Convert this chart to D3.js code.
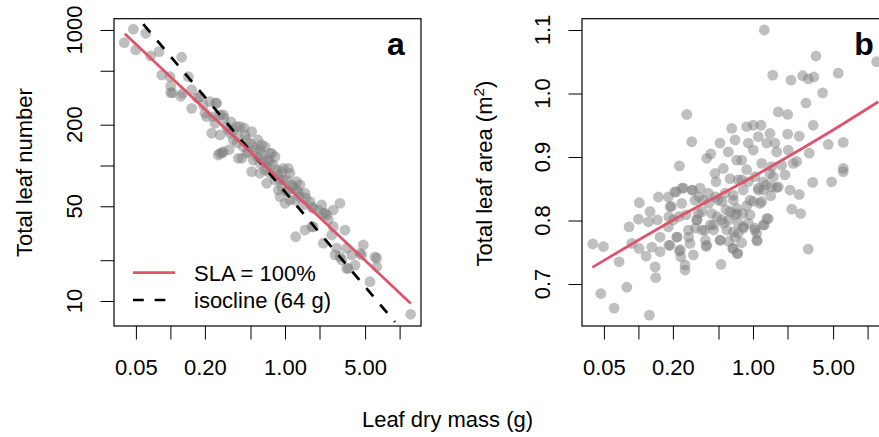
<!DOCTYPE html>
<html>
<head>
<meta charset="utf-8">
<script src="https://cdn.jsdelivr.net/npm/d3@7"></script>
<style>
  body { margin: 0; background: #fff; }
  svg { display: block; font-family: "Liberation Sans", Arial, Helvetica, sans-serif; }
</style>
</head>
<body>
<div id="chart"></div>
<script>
// panel a: leaf dry mass (g) vs total leaf number
const massA = [0.0396,0.0475,0.0609,0.0498,0.0673,0.0795,0.1255,0.0840,0.0992,0.1006,
  0.1006,0.1280,0.1433,0.1534,0.1534,0.1813,0.1937,0.2215,0.2535,0.2004,
  0.2367,0.2709,0.2293,0.2618,0.2894,0.3099,0.3539,0.3312,0.4049,0.3912,
  0.3539,0.4633,0.5122,0.5289,0.4784,0.4190,0.5122,0.5663,0.6050,0.6691,
  0.6466,0.6923,0.6050,0.7397,0.8180,0.7397,0.6923,0.8464,0.9665,0.9045,
  1.035,1.106,0.874,1.035,1.181,1.265,1.352,1.106,1.223,1.352,
  1.495,1.444,1.653,1.766,2.091,2.159,2.639,3.019,2.387,2.639,
  3.339,1.710,1.495,1.240,2.159,2.556,2.826,3.019,3.455,4.082,
  3.568,4.823,4.671,6.101,6.313,5.516,12.50,0.2073,0.2450,0.2894,
  0.2709,0.3200,0.3790,0.2709,0.3912,0.4327,0.4633,0.4951,0.6261,0.7654,
  0.5289,0.6050,0.6691,0.7397,0.936,1.069,0.818,0.9665,0.936,1.069,
  1.265,0.9045,1.000,1.710,2.234,2.311,1.766,3.820,2.731,3.125,
  3.455,4.512,6.313,0.1039,0.1230,0.1717,0.2484,0.2837,0.3247,0.2935,
  0.4477,0.5473,0.5812,0.6300,0.7107,0.7856,0.8687,1.151,1.299,1.525,
  1.941,0.3379,0.3813,0.4388]
const leafNumber = [806,1012,945,712,643,692,629,466,452,386,
  345,341,452,361,264,322,280,296,288,243,
  229,236,173,119.5,126.4,193.4,182.8,173,193.4,163.2,
  154.2,154.2,177.6,137.6,126.4,113.0,90.0,116.1,130.1,137.6,
  109.8,98.0,87.6,123.0,116.1,87.6,73.9,92.6,95.3,78.2,
  78.2,87.6,65.9,64.1,69.8,75.9,71.8,55.6,55.6,58.9,
  62.3,51.1,54.1,48.3,51.1,44.4,46.9,52.6,39.6,35.3,
  33.4,35.3,33.4,29.8,26.7,30.7,24.5,21.2,24.5,18.4,
  17.4,25.9,21.9,21.2,17.9,13.9,7.98,229,204.8,236,
  168,182.8,193.4,123.0,113.0,137.6,123.0,145.8,141.7,123.0,
  109.8,103.8,92.6,106.7,90.0,95.3,78.2,78.2,69.8,65.9,
  65.9,58.9,52.6,49.6,44.4,43.1,35.3,21.9,21.9,20.1,
  17.4,22.5,20.7,343,324,315,289,123.7,130.8,224,
  168,130.1,154.2,119.5,109.8,100.9,85.1,71.8,63.7,57.6,
  46.9,209.4,146.6,189.2]

// panel a lines (end points)
const slaMass = [0.04, 12.5]
const slaNumber = [939, 9.6]
const isoMass = [0.058, 9.1]
const isoNumber = [1105, 7.0]

// panel b: leaf dry mass (g) vs total leaf area (m2)
const massB = [0.0400,0.0495,0.0470,0.0614,0.0792,0.0679,0.0829,0.0876,0.100,0.1020,
  0.1014,0.1167,0.1247,0.1265,0.1223,0.1309,0.1398,0.1418,0.1464,0.1494,
  0.1546,0.1546,0.1826,0.1889,0.1826,0.2019,0.1889,0.2132,0.2278,0.2390,
  0.2162,0.2278,0.2343,0.2554,0.2554,0.2642,0.2468,0.2606,0.2729,0.2921,
  0.2956,0.3016,0.2823,0.3121,0.3229,0.3335,0.3450,0.3686,0.3815,0.3948,
  0.3948,0.4277,0.4077,0.4364,0.4507,0.4663,0.4757,0.4982,0.5155,0.5260,
  0.5155,0.5334,0.5509,0.5700,0.5816,0.5898,0.6090,0.6521,0.6302,0.6734,
  0.6653,0.6967,0.7208,0.7354,0.7208,0.7444,0.7971,0.7971,0.8132,0.8231,
  0.8812,0.8812,0.9100,0.9415,1.006,1.006,1.041,1.041,1.077,1.112,
  1.112,1.151,1.174,1.191,1.230,1.254,1.254,1.317,1.359,1.407,
  1.456,1.456,1.485,1.555,1.609,1.662,1.662,1.779,1.901,2.007,
  2.007,2.031,2.102,2.145,2.175,2.246,2.404,2.533,2.533,2.605,
  2.713,2.898,3.034,3.034,3.097,3.315,3.355,3.402,3.543,4.052,
  4.533,4.855,5.541,6.129,6.129,6.129,11.98,0.1841,0.2250,0.3362,
  0.2750,0.3140,0.3591,0.3838,0.4243,0.4543,0.3591,0.4110,0.4691,0.5366,
  0.6139,0.4854,0.5553,0.6139,1.427,1.609,1.298,1.503,1.112,1.191,
  1.006,0.8812,0.7208,0.9415,0.910,0.7444,0.8231,0.6734,0.6967,1.077,
  0.7971,0.6302,0.6967,0.6734,0.8231,0.910,0.7444,1.230,1.407,
  0.2076,0.2404,0.1940,0.2938,0.2324,0.2176,0.1841,0.3249,0.3893,0.5187,
  1.317,1.230,1.041,1.090,0.6734,0.7297]
const leafArea = [0.763,0.759,0.685,0.662,0.695,0.735,0.790,0.764,0.802,0.828,
  0.756,0.744,0.651,0.814,0.798,0.758,0.727,0.710,0.801,0.837,
  0.751,0.774,0.837,0.822,0.790,0.801,0.761,0.845,0.886,0.827,
  0.774,0.752,0.743,0.730,0.722,0.967,0.851,0.809,0.785,0.924,
  0.848,0.746,0.764,0.832,0.801,0.811,0.851,0.832,0.785,0.761,
  0.898,0.905,0.843,0.811,0.793,0.874,0.861,0.832,0.922,0.731,
  0.769,0.801,0.882,0.843,0.817,0.785,0.908,0.945,0.866,0.832,
  0.756,0.927,0.895,0.748,0.811,0.780,0.895,0.864,0.811,0.790,
  0.948,0.880,0.922,0.832,0.950,0.911,0.869,0.785,0.769,0.932,
  0.851,0.827,0.950,0.890,0.848,0.793,1.100,0.922,0.803,0.937,
  0.885,0.853,1.029,0.922,0.908,0.971,0.853,0.887,0.872,0.967,
  0.936,0.911,0.848,1.021,0.818,0.890,0.893,0.933,0.841,0.811,
  1.028,0.985,1.023,0.755,0.906,0.860,0.950,1.026,1.059,1.001,
  0.920,0.861,1.032,0.923,0.882,0.877,1.050,0.806,0.806,0.837,
  0.774,0.788,0.785,0.769,0.793,0.785,0.814,0.827,0.837,0.830,
  0.767,0.806,0.796,0.801,0.839,0.852,0.856,0.869,0.848,0.830,
  0.830,0.823,0.819,0.809,0.796,0.796,0.788,0.782,0.774,0.780,
  0.765,0.814,0.809,0.840,0.848,0.861,0.864,0.861,0.874,
  0.845,0.851,0.822,0.848,0.754,0.774,0.761,0.801,0.759,0.769,
  0.803,0.793,0.788,0.768,0.756,0.748]

// fitted curve in panel b
const fitMass = [0.0397, 0.2, 1.0, 5.0, 12.4]
const fitArea = [0.7263, 0.8005, 0.869, 0.9425, 0.987]

// ticks
const massTicks = [0.05, 0.1, 0.2, 0.5, 1, 2, 5, 10]
const massLabels = [0.05, 0.2, 1, 5]
const numberTicks = [10, 20, 50, 100, 200, 500, 1000]
const numberLabels = [10, 50, 200, 1000]
const areaTicks = [0.7, 0.8, 0.9, 1.0, 1.1]

const width = 879, height = 437
const red = '#DF536B'
const fs = 22

let svg = d3.select('#chart').append('svg')
  .attr('width', width)
  .attr('height', height)

let plotTop = 18.7, plotBottom = 326, tick = 13.5

function panel(left, right, y, ticksY, labelsY, fmtY, id) {
  let x = d3.scaleLog().domain([0.0322, 15.37]).range([left, right])
  let g = svg.append('g')

  g.append('clipPath').attr('id', id)
    .append('rect')
    .attr('x', left).attr('y', plotTop)
    .attr('width', right - left).attr('height', plotBottom - plotTop)

  // x axis
  let xa = g.append('g')
    .attr('transform', `translate(0,${plotBottom})`)
    .call(d3.axisBottom(x).tickValues(massTicks).tickSize(tick).tickSizeOuter(0)
      .tickPadding(19.9)
      .tickFormat((d) => massLabels.includes(d) ? d3.format('.2f')(d) : ''))
  xa.select('.domain').remove()
  xa.selectAll('line').attr('stroke', '#000')
  xa.selectAll('text').attr('font-size', fs).attr('fill', '#000')
  xa.attr('font-family', null)

  // y axis
  let ya = g.append('g')
    .attr('transform', `translate(${left},0)`)
    .call(d3.axisLeft(y).tickValues(ticksY).tickSize(tick).tickSizeOuter(0).tickFormat(''))
  ya.select('.domain').remove()
  ya.selectAll('line').attr('stroke', '#000')

  g.selectAll(null)
    .data(labelsY)
    .enter()
    .append('text')
    .attr('transform', (d) => `translate(${left - 32.3},${y(d)}) rotate(-90)`)
    .attr('text-anchor', 'middle')
    .attr('font-size', fs)
    .text(fmtY)

  let plot = g.append('g').attr('clip-path', `url(#${id})`)

  g.append('rect')
    .attr('x', left).attr('y', plotTop)
    .attr('width', right - left).attr('height', plotBottom - plotTop)
    .attr('fill', 'none')
    .attr('stroke', '#000')
    .attr('stroke-width', 1.2)

  return { x, plot, g }
}

// ---- panel a
let yA = d3.scaleLog().domain([6.54, 1211]).range([plotBottom, plotTop])
let a = panel(114, 421, yA, numberTicks, numberLabels, (d) => d, 'clipA')

a.plot.selectAll('.pt')
  .data(massA)
  .enter()
  .append('circle')
  .attr('class', 'pt')
  .attr('cx', (d) => a.x(d))
  .attr('cy', (d, i) => yA(leafNumber[i]))
  .attr('r', 5.4)
  .attr('fill', '#7F7F7F')
  .attr('fill-opacity', 0.5)

let lineA = d3.line()
  .x((d) => a.x(d[0]))
  .y((d) => yA(d[1]))

a.plot.append('path')
  .attr('d', lineA(d3.zip(isoMass, isoNumber)))
  .attr('fill', 'none')
  .attr('stroke', '#000')
  .attr('stroke-width', 2.7)
  .attr('stroke-dasharray', '10.8,10.8')

a.plot.append('path')
  .attr('d', lineA(d3.zip(slaMass, slaNumber)))
  .attr('fill', 'none')
  .attr('stroke', red)
  .attr('stroke-width', 2.7)

a.g.append('text')
  .attr('x', 396).attr('y', 55)
  .attr('text-anchor', 'middle')
  .attr('font-size', 32)
  .attr('font-weight', 'bold')
  .text('a')

// legend
let legend = [
  { label: 'SLA = 100%', color: red, dash: null, y: 272.7 },
  { label: 'isocline (64 g)', color: '#000', dash: '10.8,10.8', y: 300 }
]
legend.forEach((d) => {
  a.g.append('line')
    .attr('x1', 133).attr('x2', 175)
    .attr('y1', d.y).attr('y2', d.y)
    .attr('stroke', d.color)
    .attr('stroke-width', 2.7)
    .attr('stroke-dasharray', d.dash)
  a.g.append('text')
    .attr('x', 194).attr('y', d.y + 8)
    .attr('font-size', fs)
    .text(d.label)
})

a.g.append('text')
  .attr('transform', 'translate(31.5,172.5) rotate(-90)')
  .attr('text-anchor', 'middle')
  .attr('font-size', fs)
  .text('Total leaf number')

// ---- panel b
let yB = d3.scaleLinear().domain([0.6339, 1.1178]).range([plotBottom, plotTop])
let b = panel(582, 889, yB, areaTicks, areaTicks, (d) => d3.format('.1f')(d), 'clipB')

b.plot.selectAll('.pt')
  .data(massB)
  .enter()
  .append('circle')
  .attr('class', 'pt')
  .attr('cx', (d) => b.x(d))
  .attr('cy', (d, i) => yB(leafArea[i]))
  .attr('r', 5.4)
  .attr('fill', '#7F7F7F')
  .attr('fill-opacity', 0.5)

b.plot.append('path')
  .attr('d', d3.line()
    .x((d) => b.x(d[0]))
    .y((d) => yB(d[1]))
    .curve(d3.curveMonotoneX)(d3.zip(fitMass, fitArea)))
  .attr('fill', 'none')
  .attr('stroke', red)
  .attr('stroke-width', 2.7)

b.g.append('text')
  .attr('x', 864).attr('y', 55)
  .attr('text-anchor', 'middle')
  .attr('font-size', 32)
  .attr('font-weight', 'bold')
  .text('b')

let tb = b.g.append('text')
  .attr('transform', 'translate(492,173.5) rotate(-90)')
  .attr('text-anchor', 'middle')
  .attr('font-size', fs)
tb.append('tspan').text('Total leaf area (m')
tb.append('tspan').attr('font-size', 15.5).attr('dy', -8).text('2')
tb.append('tspan').attr('dy', 8).text(')')

// shared x title
svg.append('text')
  .attr('x', 447.5).attr('y', 427)
  .attr('text-anchor', 'middle')
  .attr('font-size', fs)
  .text('Leaf dry mass (g)')
</script>
</body>
</html>
